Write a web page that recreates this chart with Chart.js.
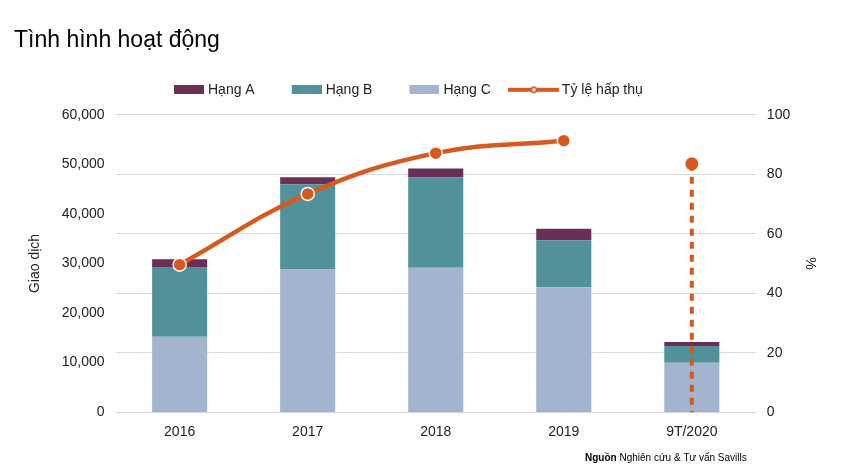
<!DOCTYPE html>
<html>
<head>
<meta charset="utf-8">
<script src="https://cdn.jsdelivr.net/npm/chart.js@4.4.1/dist/chart.umd.min.js"></script>
<style>
  html, body { margin: 0; padding: 0; background: #fff; }
  #wrap { width: 848px; height: 466px; position: relative; }
</style>
</head>
<body>
<div id="wrap"><canvas id="c" width="848" height="466"></canvas></div>
<script>
// ---- data ----
const categories = ['2016', '2017', '2018', '2019', '9T/2020'];
const hangC = [15200, 28800, 29150, 25200, 10000];
const hangB = [14100, 17200, 18250, 9500, 3350];
const hangA = [1550, 1400, 1750, 2300, 800];
const tyLe = [49.6, 73.4, 87.1, 91.3, null];
const tyLe2020 = 83.5;
const leftTicks = [0, 10000, 20000, 30000, 40000, 50000, 60000];
const rightTicks = [0, 20, 40, 60, 80, 100];

const FONT = 'Liberation Sans, Arial, sans-serif';
const COL_A = '#6A2F55';
const COL_B = '#52909A';
const COL_C = '#A3B4CF';
const COL_L = '#D65A1F';
const TXT = '#222222';

// legend symbol images (asymmetric so the symbol sits close to its text)
function boxImg(color) {
  const c = document.createElement('canvas');
  c.width = 45; c.height = 9;
  const x = c.getContext('2d');
  x.fillStyle = color; x.fillRect(15, 0, 30, 9);
  return c;
}
function lineImg() {
  const c = document.createElement('canvas');
  c.width = 55; c.height = 12;
  const x = c.getContext('2d');
  x.fillStyle = COL_L; x.fillRect(0, 4, 51, 4);
  x.beginPath(); x.arc(26, 6, 3.5, 0, Math.PI * 2);
  x.fillStyle = COL_L; x.fill();
  x.beginPath(); x.arc(26, 6, 1.8, 0, Math.PI * 2);
  x.fillStyle = '#fff'; x.fill();
  return c;
}

const legendShift = {
  id: 'legendShift',
  afterLayout(chart) {
    const lg = chart.legend;
    if (!lg || !lg.lineWidths) return;
    const pad = lg.options.labels.padding;
    const start = (lg.left + pad + lg.right - lg.lineWidths[0]) / 2;
    const d = 162 - start;
    lg.left += d; lg.right += d;
    lg.top -= 8; lg.bottom -= 8;
  }
};

const sourcePlugin = {
  id: 'sourceNote',
  afterDraw(chart) {
    const ctx = chart.ctx;
    ctx.save();
    ctx.textBaseline = 'middle';
    ctx.fillStyle = '#000';
    ctx.font = 'bold 10px ' + FONT;
    const b = 'Nguồn';
    ctx.fillText(b, 585, 458);
    const w = ctx.measureText(b + ' ').width;
    ctx.font = '10px ' + FONT;
    ctx.fillText('Nghiên cứu & Tư vấn Savills', 585 + w, 458);
    ctx.restore();
  }
};

new Chart(document.getElementById('c'), {
  type: 'bar',
  data: {
    labels: categories,
    datasets: [
      { label: 'Hạng C', data: hangC, backgroundColor: COL_C, yAxisID: 'y', stack: 's', order: 2,
        categoryPercentage: 1, barPercentage: 0.43 },
      { label: 'Hạng B', data: hangB, backgroundColor: COL_B, yAxisID: 'y', stack: 's', order: 2,
        categoryPercentage: 1, barPercentage: 0.43 },
      { label: 'Hạng A', data: hangA, backgroundColor: COL_A, yAxisID: 'y', stack: 's', order: 2,
        categoryPercentage: 1, barPercentage: 0.43 },
      { type: 'line', label: 'Tỷ lệ hấp thụ', data: tyLe, yAxisID: 'y1', order: 0,
        borderColor: COL_L, backgroundColor: COL_L, borderWidth: 4.5, tension: 0.4,
        pointRadius: 6.5, pointBackgroundColor: COL_L, pointBorderColor: '#fff', pointBorderWidth: 1.5,
        clip: false },
      { type: 'line', label: 'Tỷ lệ hấp thụ 9T/2020',
        data: [{ x: categories[4], y: tyLe2020 }, { x: categories[4], y: 0 }],
        yAxisID: 'y1', order: 0, borderColor: COL_L, backgroundColor: COL_L, borderWidth: 4,
        borderDash: [7, 6], pointRadius: [6.5, 0], pointBackgroundColor: COL_L, pointBorderWidth: 0,
        clip: false }
    ]
  },
  options: {
    responsive: false,
    animation: false,
    layout: { padding: { left: 14, right: 18, top: 0, bottom: 13 } },
    plugins: {
      tooltip: { enabled: false },
      title: {
        display: true, text: 'Tình hình hoạt động', align: 'start', color: '#000',
        font: { family: FONT, size: 23, weight: 'normal' },
        padding: { top: 26.6, bottom: 11.6 }
      },
      legend: {
        display: true, position: 'top',
        labels: {
          usePointStyle: true, pointStyleWidth: 39, boxHeight: 9, padding: 25,
          color: TXT, font: { family: FONT, size: 14 },
          generateLabels(chart) {
            return [
              { text: 'Hạng A', pointStyle: boxImg(COL_A), datasetIndex: 2, hidden: false, lineWidth: 0, fontColor: TXT },
              { text: 'Hạng B', pointStyle: boxImg(COL_B), datasetIndex: 1, hidden: false, lineWidth: 0, fontColor: TXT },
              { text: 'Hạng C', pointStyle: boxImg(COL_C), datasetIndex: 0, hidden: false, lineWidth: 0, fontColor: TXT },
              { text: 'Tỷ lệ hấp thụ', pointStyle: lineImg(), datasetIndex: 3, hidden: false, lineWidth: 0, fontColor: TXT }
            ];
          }
        }
      }
    },
    scales: {
      x: {
        stacked: true,
        grid: { display: false, drawTicks: false },
        border: { display: false },
        ticks: { color: TXT, font: { family: FONT, size: 14 }, padding: 12 }
      },
      y: {
        stacked: true, position: 'left', min: 0, max: 60000,
        grid: { display: false, drawTicks: false },
        border: { display: false },
        afterBuildTicks(axis) { axis.ticks = leftTicks.map(v => ({ value: v })); },
        ticks: {
          color: TXT, font: { family: FONT, size: 14 }, padding: 11,
          callback: v => v.toLocaleString('en-US')
        },
        title: { display: true, text: 'Giao dịch', color: TXT, font: { family: FONT, size: 14 }, padding: { top: 12.6, bottom: 7.4 } }
      },
      y1: {
        position: 'right', min: 0, max: 100,
        grid: { display: true, color: '#d9d9d9', lineWidth: 1, drawTicks: false },
        border: { display: false },
        afterBuildTicks(axis) { axis.ticks = rightTicks.map(v => ({ value: v })); },
        ticks: { color: TXT, font: { family: FONT, size: 14 }, padding: 11 },
        title: { display: true, text: '%', color: TXT, font: { family: FONT, size: 14 }, padding: { top: 12, bottom: 0 } }
      }
    }
  },
  plugins: [legendShift, sourcePlugin]
});
</script>
</body>
</html>
